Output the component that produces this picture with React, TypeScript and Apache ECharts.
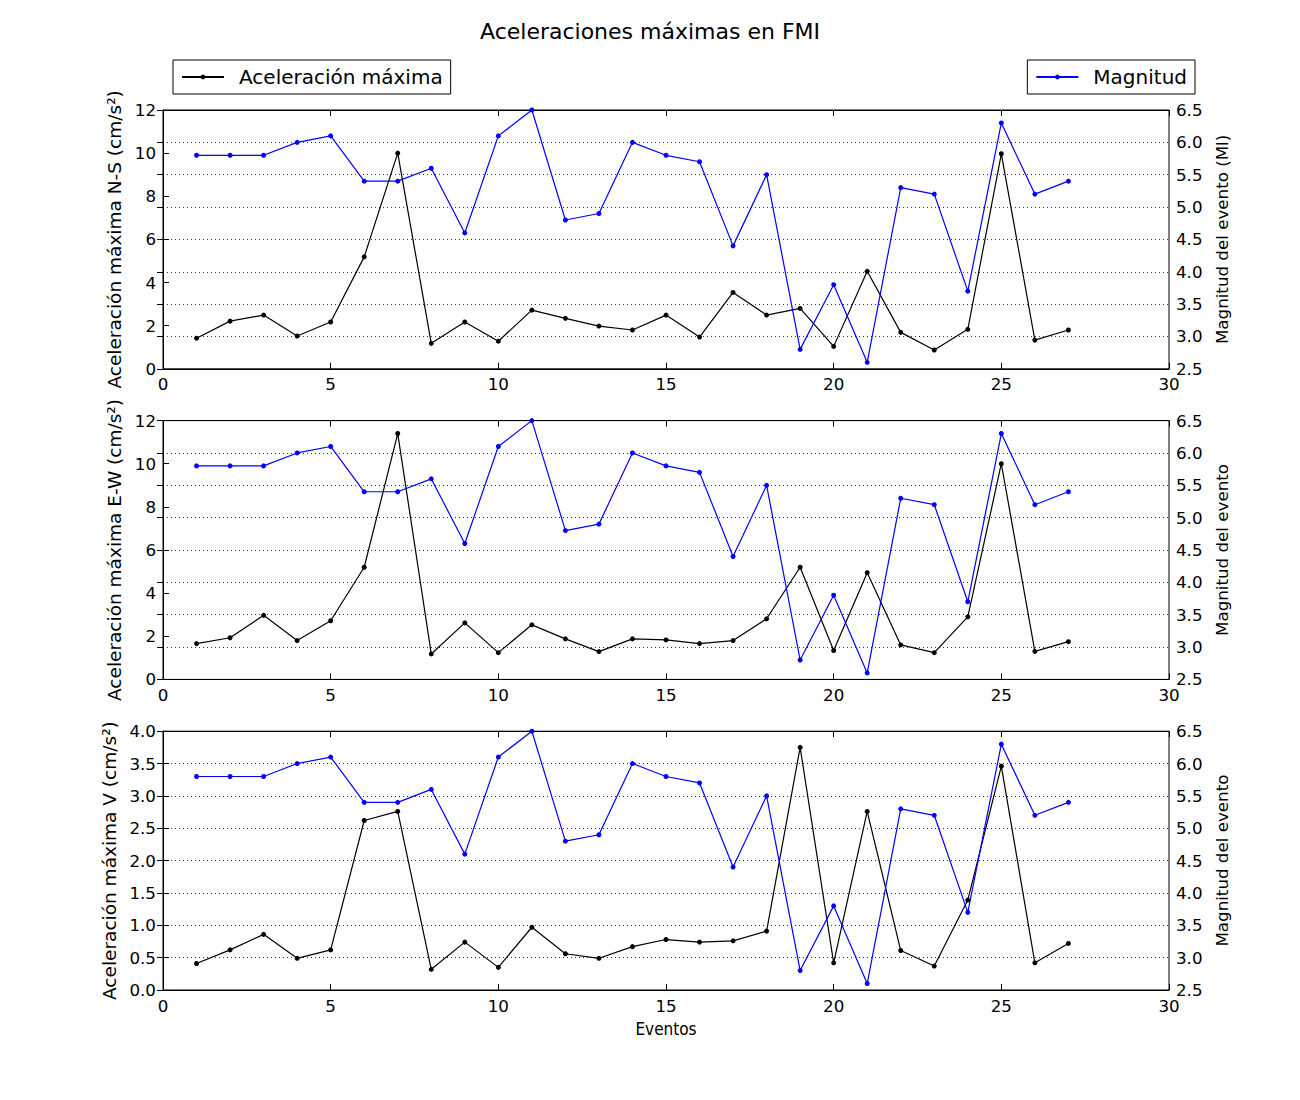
import React, { useEffect, useRef } from "react";
import * as echarts from "echarts";

const eventos = [1, 2, 3, 4, 5, 6, 7, 8, 9, 10, 11, 12, 13, 14, 15, 16, 17, 18, 19, 20, 21, 22, 23, 24, 25, 26, 27];
const magnitud = [5.8, 5.8, 5.8, 6.0, 6.1, 5.4, 5.4, 5.6, 4.6, 6.1, 6.5, 4.8, 4.9, 6.0, 5.8, 5.7, 4.4, 5.5, 2.8, 3.8, 2.6, 5.3, 5.2, 3.7, 6.3, 5.2, 5.4];
const accNS = [1.42, 2.21, 2.49, 1.52, 2.17, 5.19, 10.0, 1.18, 2.17, 1.28, 2.72, 2.34, 1.98, 1.8, 2.49, 1.47, 3.54, 2.49, 2.8, 1.04, 4.52, 1.69, 0.87, 1.83, 9.97, 1.33, 1.8];
const accEW = [1.66, 1.93, 2.97, 1.8, 2.72, 5.2, 11.4, 1.18, 2.62, 1.24, 2.53, 1.88, 1.29, 1.88, 1.83, 1.66, 1.8, 2.81, 5.2, 1.34, 4.95, 1.6, 1.24, 2.9, 10.0, 1.3, 1.75];
const accV = [0.41, 0.62, 0.86, 0.49, 0.62, 2.62, 2.76, 0.32, 0.74, 0.35, 0.97, 0.56, 0.49, 0.67, 0.78, 0.74, 0.76, 0.91, 3.75, 0.42, 2.76, 0.61, 0.37, 1.39, 3.46, 0.42, 0.72];

const leftNames = ["Aceleración máxima N-S (cm/s²)", "Aceleración máxima E-W (cm/s²)", "Aceleración máxima V (cm/s²)"];
const rightNames = ["Magnitud del evento (Ml)", "Magnitud del evento", "Magnitud del evento"];
const leftMax = [12, 12, 4];
const leftInterval = [2, 2, 0.5];
const accSeries = [accNS, accEW, accV];

const FONT = "DejaVu Sans";

export default function App() {
  const ref = useRef<HTMLDivElement>(null);
  useEffect(() => {
    if (!ref.current) return;
    const chart = echarts.init(ref.current, null, { renderer: "svg" });
    const gridTops = [110, 420.6, 731.2];
    const gridH = 258.8;
    const grids = gridTops.map((t) => ({
      left: 163,
      top: t,
      width: 1006,
      height: gridH,
      show: true,
      borderColor: "#000",
      borderWidth: 1,
      backgroundColor: "transparent",
    }));
    const xAxes: any[] = [];
    const yAxes: any[] = [];
    const series: any[] = [];
    for (let k = 0; k < 3; k++) {
      xAxes.push({
        type: "value",
        gridIndex: k,
        position: "bottom",
        min: 0,
        max: 30,
        interval: 5,
        axisLine: { show: true, lineStyle: { color: "#000", width: 1 } },
        axisTick: { show: true, inside: true, length: 6, lineStyle: { color: "#000" } },
        axisLabel: { show: true, color: "#000", fontSize: 16.7, fontFamily: FONT, margin: 7 },
        splitLine: { show: false },
        name: k === 2 ? "Eventos" : "",
        nameLocation: "middle",
        nameGap: 30,
        nameTextStyle: { color: "#000", fontSize: 17, fontFamily: "'DejaVu Sans Condensed', 'Liberation Sans Narrow', 'DejaVu Sans'" },
      });
      xAxes.push({
        type: "value",
        gridIndex: k,
        position: "top",
        min: 0,
        max: 30,
        interval: 5,
        axisLine: { show: true, lineStyle: { color: "#000", width: 1 } },
        axisTick: { show: true, inside: true, length: 6, lineStyle: { color: "#000" } },
        axisLabel: { show: false },
        splitLine: { show: false },
      });
      yAxes.push({
        type: "value",
        gridIndex: k,
        position: "left",
        min: 0,
        max: leftMax[k],
        interval: leftInterval[k],
        axisLine: { show: true, lineStyle: { color: "#000", width: 1 } },
        axisTick: { show: true, inside: true, length: 6, lineStyle: { color: "#000" } },
        axisLabel: {
          color: "#000",
          fontSize: 16.7,
          fontFamily: FONT,
          margin: 7,
          formatter: (v: number) => (k === 2 ? v.toFixed(1) : String(v)),
        },
        splitLine: { show: false },
        name: leftNames[k],
        nameLocation: "middle",
        nameRotate: 90,
        nameGap: 33,
        nameTextStyle: { color: "#000", fontSize: 18.5, fontFamily: FONT },
      });
      yAxes.push({
        type: "value",
        gridIndex: k,
        position: "right",
        min: 2.5,
        max: 6.5,
        interval: 0.5,
        axisLine: { show: true, lineStyle: { color: "#000", width: 1 } },
        axisTick: { show: true, inside: true, length: 6, lineStyle: { color: "#000" } },
        axisLabel: {
          color: "#000",
          fontSize: 16.7,
          fontFamily: FONT,
          margin: 7,
          formatter: (v: number) => v.toFixed(1),
        },
        splitLine: { show: true, lineStyle: { color: "#000", width: 0.8, type: [1, 3] } },
        name: rightNames[k],
        nameLocation: "middle",
        nameRotate: 90,
        nameGap: 28,
        nameTextStyle: { color: "#000", fontSize: 16.7, fontFamily: FONT },
      });
      series.push({
        name: "Aceleración máxima",
        type: "line",
        xAxisIndex: 2 * k,
        yAxisIndex: 2 * k,
        data: eventos.map((e, i) => [e, accSeries[k][i]]),
        symbol: "circle",
        symbolSize: 5,
        showSymbol: true,
        lineStyle: { color: "#000", width: 1.2 },
        itemStyle: { color: "#000" },
        clip: false,
      });
      series.push({
        name: "Magnitud",
        type: "line",
        xAxisIndex: 2 * k,
        yAxisIndex: 2 * k + 1,
        data: eventos.map((e, i) => [e, magnitud[i]]),
        symbol: "circle",
        symbolSize: 5,
        showSymbol: true,
        lineStyle: { color: "#0000ff", width: 1.2 },
        itemStyle: { color: "#0000ff" },
        clip: false,
      });
    }
    chart.setOption({
      animation: false,
      backgroundColor: "#fff",
      title: {
        text: "Aceleraciones máximas en FMI",
        left: "center",
        top: 15,
        textStyle: { color: "#000", fontSize: 22, fontWeight: "normal", fontFamily: FONT },
      },
      legend: [
        {
          data: ["Aceleración máxima"],
          left: 173,
          top: 60,
          orient: "horizontal",
          borderColor: "#000",
          borderWidth: 1,
          borderRadius: 0,
          padding: [7, 8, 7, 8],
          itemWidth: 42,
          itemHeight: 6,
          selectedMode: false,
          textStyle: { color: "#000", fontSize: 20, fontFamily: FONT, padding: [0, 0, 0, 10], lineHeight: 20 },
        },
        {
          data: ["Magnitud"],
          right: 105,
          top: 60,
          orient: "horizontal",
          borderColor: "#000",
          borderWidth: 1,
          borderRadius: 0,
          padding: [7, 8, 7, 8],
          itemWidth: 42,
          itemHeight: 6,
          selectedMode: false,
          textStyle: { color: "#000", fontSize: 20, fontFamily: FONT, padding: [0, 0, 0, 10], lineHeight: 20 },
        },
      ],
      grid: grids,
      xAxis: xAxes,
      yAxis: yAxes,
      series,
    });
    return () => chart.dispose();
  }, []);
  return (
    <div
      ref={ref}
      style={{ position: "absolute", left: 0, top: 0, width: 1300, height: 1100 }}
    />
  );
}
